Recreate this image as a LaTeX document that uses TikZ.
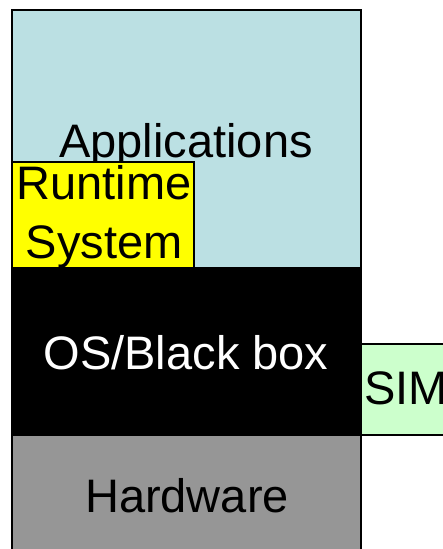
\documentclass[tikz,border=0pt]{standalone}
\usepackage{fontspec}
\setmainfont{Liberation Sans}
\definecolor{appblue}{RGB}{187,224,227}
\definecolor{rtyellow}{RGB}{255,255,0}
\definecolor{simgreen}{RGB}{204,255,204}
\definecolor{hwgray}{RGB}{150,150,150}
\tikzset{
  layer/.style={draw=black, line width=1.4pt, inner sep=0pt, outer sep=0pt, anchor=north west},
  lbl/.style={inner sep=0pt, anchor=base, font=\fontsize{47}{56}\selectfont},
}
\begin{document}
\begin{tikzpicture}[x=1pt, y=1pt]
  \useasboundingbox (0,0) rectangle (443,549);
  \fill[white] (0,0) rectangle (443,549);
  \clip (0,0) rectangle (443,549);
  % software stack, top to bottom
  \node[layer, fill=appblue, minimum width=349, minimum height=258] (apps) at (12,539) {};
  \node[lbl] (appstext) at (186,391) {Applications};
  \node[layer, fill=rtyellow, minimum width=182, minimum height=106] (rts) at (12,387) {};
  \node[lbl] (rtstext1) at (104,349) {Runtime};
  \node[lbl] (rtstext2) at (104,290) {System};
  \node[layer, fill=black, minimum width=349, minimum height=167] (os) at (12,281) {};
  \node[lbl, text=white] (ostext) at (186,179) {OS/Black box};
  \node[layer, fill=simgreen, minimum width=120, minimum height=91] (sim) at (361,205) {};
  \node[lbl, anchor=base west] (simtext) at (364,144) {SIM};
  \node[layer, fill=hwgray, minimum width=349, minimum height=140] (hw) at (12,114) {};
  \node[lbl] (hwtext) at (187,36) {Hardware};
\end{tikzpicture}
\end{document}
